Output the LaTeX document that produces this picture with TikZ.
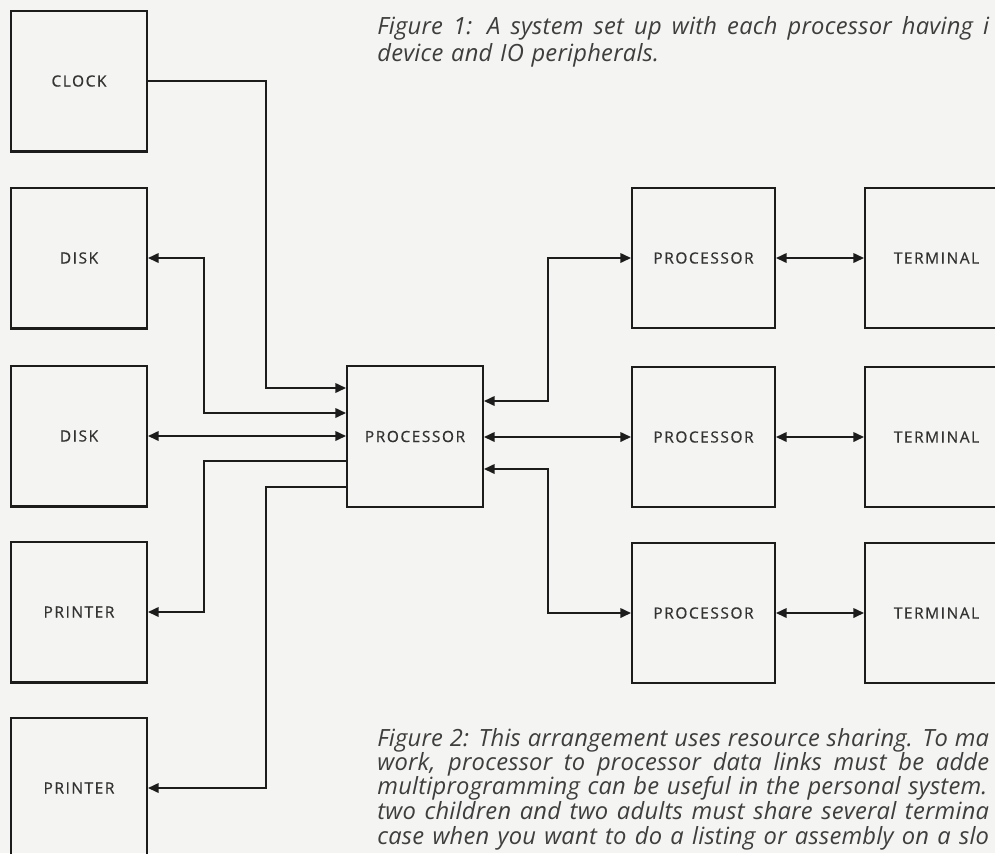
\documentclass[tikz,border=0pt]{standalone}
\usepackage{fontspec}
\usepackage{xcolor}
\newfontfamily\capfont[LetterSpace=1, WordSpace=1.2]{Open Sans}
\newfontfamily\boxfont[LetterSpace=10, FakeBold=0.6]{Open Sans}
\definecolor{paper}{HTML}{F4F4F2}
\definecolor{ink}{HTML}{1C1C1C}
\usetikzlibrary{arrows.meta, positioning}
% justified caption line running to the right edge
\newcommand{\fullline}[1]{\makebox[12.24cm][s]{#1}}

\tikzset{
  unit/.style={draw=ink, line width=1.15pt, minimum width=2.72cm, minimum height=2.82cm, inner sep=0pt, font=\boxfont\fontsize{8.8}{10}\selectfont, text=ink!90},
  wideunit/.style={unit, minimum width=2.86cm, minimum height=2.8cm},
  wire/.style={draw=ink, line width=1pt},
  caption/.style={font=\capfont\itshape\fontsize{13.5}{15}\selectfont, anchor=base west, inner sep=0pt, text=ink!85}
}

\begin{document}
\begin{tikzpicture}[x=0.02cm, y=-0.02cm, >={Triangle[length=6pt, width=5.4pt]}]
        \useasboundingbox (0,0) rectangle (995,853);
        \clip (0,0) rectangle (995,853);
        \fill[paper] (0,0) rectangle (995,853);

        % Peripherals on the left
        \node[unit] (clock) at (79,81) {CLOCK};
        \node[unit] (diskA) at (79,258) {DISK};
        \node[unit] (diskB) at (79,436) {DISK};
        \node[unit] (printerA) at (79,612) {PRINTER};
        \node[unit] (printerB) at (79,788) {PRINTER};

        % Shared processor and the ones it feeds
        \node[unit] (cpu) at (415,436.5) {PROCESSOR};
        \node[wideunit] (cpuA) at (703.5,258) {PROCESSOR};
        \node[wideunit] (cpuB) at (703.5,437) {PROCESSOR};
        \node[wideunit] (cpuC) at (703.5,613) {PROCESSOR};
        \node[wideunit] (termA) at (936.5,258) {TERMINAL};
        \node[wideunit] (termB) at (936.5,437) {TERMINAL};
        \node[wideunit] (termC) at (936.5,613) {TERMINAL};

        % Captions
        \node[caption] (capOneA) at (377,34) {\fullline{Figure 1: A system set up with each processor having i}};
        \node[caption] (capOneB) at (377,61) {device and IO peripherals.};
        \node[caption] (capTwoA) at (377,746) {\fullline{Figure 2: This arrangement uses resource sharing. To ma}};
        \node[caption] (capTwoB) at (377,770) {\fullline{work, processor to processor data links must be adde}};
        \node[caption] (capTwoC) at (377,794) {multiprogramming can be useful in the personal system.};
        \node[caption] (capTwoD) at (377,819) {\fullline{two children and two adults must share several termina}};
        \node[caption] (capTwoE) at (377,844) {\fullline{case when you want to do a listing or assembly on a slo}};

        % Paths, left side
        \draw[wire, ->] (clock.east) -| (266,388) -- (cpu.west |- 0,388);
        \draw[wire, <->] (diskA.east) -| (204,413) -- (cpu.west |- 0,413);
        \draw[wire, <->] (diskB.east) -- (diskB.east -| cpu.west);
        \draw[wire, ->] (cpu.west |- 0,461) -| (204,612) -- (printerA.east);
        \draw[wire, ->] (cpu.west |- 0,487) -| (266,788) -- (printerB.east);

        % Paths, right side
        \draw[wire, <->] (cpu.east |- 0,401) -| (548,258) -- (cpuA.west);
        \draw[wire, <->] (cpu.east |- 0,437) -- (cpuB.west);
        \draw[wire, <->] (cpu.east |- 0,469) -| (548,613) -- (cpuC.west);
        \foreach \n in {A,B,C}
            \draw[wire, <->] (cpu\n.east) -- (term\n.west);
    \end{tikzpicture}
\end{document}
